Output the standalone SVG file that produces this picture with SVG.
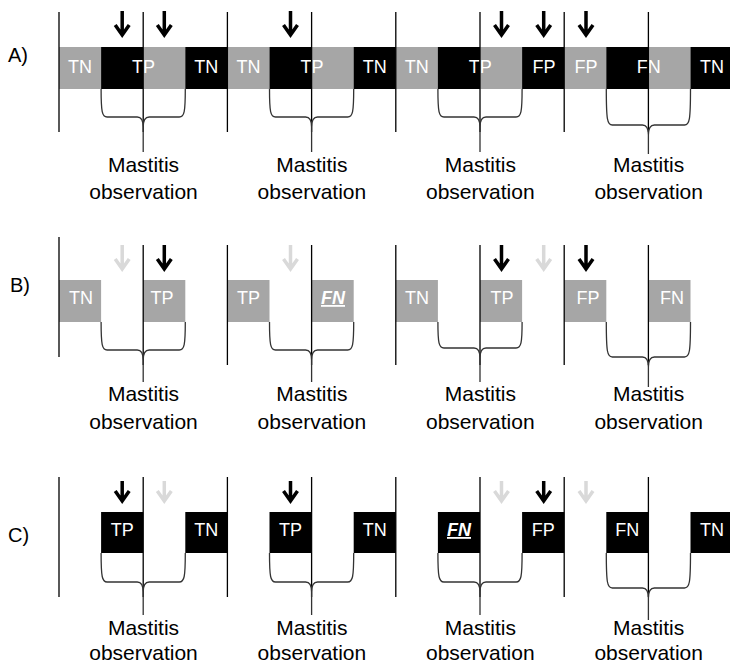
<svg xmlns="http://www.w3.org/2000/svg" width="730" height="664" viewBox="0 0 730 664">
<style>
.g{fill:#a6a6a6}
.k{fill:#000}
.bl{fill:#fff;font-family:"Liberation Sans",Arial,sans-serif;font-size:18px;text-anchor:middle}
.em{font-weight:bold;font-style:italic;text-decoration:underline}
.vl{stroke:#000;stroke-width:1.3}
.br{fill:none;stroke:#333;stroke-width:1.3}
.ab{fill:none;stroke:#000;stroke-width:3.5}
.al{fill:none;stroke:#d9d9d9;stroke-width:3.5}
.lab{font-family:"Liberation Sans",Arial,sans-serif;font-size:21px;fill:#000;text-anchor:middle}
.row{font-family:"Liberation Sans",Arial,sans-serif;font-size:20px;fill:#000}
</style>
<rect width="730" height="664" fill="#fff"/>

<!-- Row labels -->
<text class="row" x="8" y="62">A)</text>
<text class="row" x="10" y="292">B)</text>
<text class="row" x="8" y="542">C)</text>

<!-- Row A -->
<g id="rowA-bars">
<rect class="g" x="59" y="47" width="42.2" height="42"/>
<rect class="k" x="101.1" y="47" width="42.2" height="42"/>
<rect class="g" x="143.2" y="47" width="42.2" height="42"/>
<rect class="k" x="185.3" y="47" width="42.2" height="42"/>
<rect class="g" x="227.4" y="47" width="42.2" height="42"/>
<rect class="k" x="269.5" y="47" width="42.2" height="42"/>
<rect class="g" x="311.6" y="47" width="42.2" height="42"/>
<rect class="k" x="353.7" y="47" width="42.2" height="42"/>
<rect class="g" x="395.8" y="47" width="42.2" height="42"/>
<rect class="k" x="437.9" y="47" width="42.2" height="42"/>
<rect class="g" x="480" y="47" width="42.2" height="42"/>
<rect class="k" x="522.1" y="47" width="42.2" height="42"/>
<rect class="g" x="564.2" y="47" width="42.2" height="42"/>
<rect class="k" x="606.3" y="47" width="42.2" height="42"/>
<rect class="g" x="648.4" y="47" width="42.2" height="42"/>
<rect class="k" x="690.5" y="47" width="42.2" height="42"/>
</g>
<g id="rowA-labels">
<text class="bl" x="80" y="73">TN</text>
<text class="bl" x="143.5" y="73">TP</text>
<text class="bl" x="206.3" y="73">TN</text>
<text class="bl" x="248.4" y="73">TN</text>
<text class="bl" x="311.9" y="73">TP</text>
<text class="bl" x="374.7" y="73">TN</text>
<text class="bl" x="416.8" y="73">TN</text>
<text class="bl" x="480.3" y="73">TP</text>
<text class="bl" x="544" y="73">FP</text>
<text class="bl" x="586" y="73">FP</text>
<text class="bl" x="648.7" y="73">FN</text>
<text class="bl" x="712" y="73">TN</text>
</g>

<!-- Row B -->
<g id="rowB-bars">
<rect class="g" x="59" y="280" width="42.1" height="42"/>
<rect class="g" x="143.2" y="280" width="42.1" height="42"/>
<rect class="g" x="227.4" y="280" width="42.1" height="42"/>
<rect class="g" x="311.6" y="280" width="42.1" height="42"/>
<rect class="g" x="395.8" y="280" width="42.1" height="42"/>
<rect class="g" x="480" y="280" width="42.1" height="42"/>
<rect class="g" x="564.2" y="280" width="42.1" height="42"/>
<rect class="g" x="648.4" y="280" width="42.1" height="42"/>
</g>
<g id="rowB-labels">
<text class="bl" x="81" y="304">TN</text>
<text class="bl" x="162" y="304">TP</text>
<text class="bl" x="248.4" y="304">TP</text>
<text class="bl em" x="333" y="304">FN</text>
<text class="bl" x="417" y="304">TN</text>
<text class="bl" x="502" y="304">TP</text>
<text class="bl" x="588" y="304">FP</text>
<text class="bl" x="672" y="304">FN</text>
</g>

<!-- Row C -->
<g id="rowC-bars">
<rect class="k" x="101.1" y="512" width="42.1" height="41"/>
<rect class="k" x="185.3" y="512" width="42.1" height="41"/>
<rect class="k" x="269.5" y="512" width="42.1" height="41"/>
<rect class="k" x="353.7" y="512" width="42.1" height="41"/>
<rect class="k" x="437.9" y="512" width="42.1" height="41"/>
<rect class="k" x="522.1" y="512" width="42.1" height="41"/>
<rect class="k" x="606.3" y="512" width="42.1" height="41"/>
<rect class="k" x="690.5" y="512" width="42.1" height="41"/>
</g>
<g id="rowC-labels">
<text class="bl" x="122.2" y="536">TP</text>
<text class="bl" x="206.3" y="536">TN</text>
<text class="bl" x="290.5" y="536">TP</text>
<text class="bl" x="374.7" y="536">TN</text>
<text class="bl em" x="459" y="536">FN</text>
<text class="bl" x="543.2" y="536">FP</text>
<text class="bl" x="627.3" y="536">FN</text>
<text class="bl" x="712" y="536">TN</text>
</g>

<!-- Vertical time lines -->
<g id="lines">
<path class="vl" d="M59,12V132M143.2,12V132M227.4,12V132M311.6,12V132M395.8,12V132M480,12V132M564.2,12V132M648.4,12V132"/>
<path class="vl" d="M59,237V357M143.2,245V365M227.4,245V365M311.6,245V365M395.8,245V365M480,245V365M564.2,245V365M648.4,245V365"/>
<path class="vl" d="M59,477V597M143.2,477V597M227.4,477V597M311.6,477V597M395.8,477V597M480,477V597M564.2,477V597M648.4,477V597"/>
</g>

<!-- Arrows -->
<g id="arrows">
<path class="ab" d="M122.2,11V33M115.2,25L122.2,35L129.2,25"/>
<path class="ab" d="M164.3,11V33M157.3,25L164.3,35L171.3,25"/>
<path class="ab" d="M290.5,11V33M283.5,25L290.5,35L297.5,25"/>
<path class="ab" d="M501.5,11V33M494.5,25L501.5,35L508.5,25"/>
<path class="ab" d="M543.7,11V33M536.7,25L543.7,35L550.7,25"/>
<path class="ab" d="M586,11V33M579,25L586,35L593,25"/>

<path class="al" d="M122.2,245V267M115.2,259L122.2,269L129.2,259"/>
<path class="ab" d="M164.3,245V267M157.3,259L164.3,269L171.3,259"/>
<path class="al" d="M290.5,245V267M283.5,259L290.5,269L297.5,259"/>
<path class="ab" d="M501.5,245V267M494.5,259L501.5,269L508.5,259"/>
<path class="al" d="M543.7,245V267M536.7,259L543.7,269L550.7,259"/>
<path class="ab" d="M586,245V267M579,259L586,269L593,259"/>

<path class="ab" d="M122.2,481V499M115.2,491L122.2,501L129.2,491"/>
<path class="al" d="M164.3,481V499M157.3,491L164.3,501L171.3,491"/>
<path class="ab" d="M290.5,481V499M283.5,491L290.5,501L297.5,491"/>
<path class="al" d="M501.5,481V499M494.5,491L501.5,501L508.5,491"/>
<path class="ab" d="M543.7,481V499M536.7,491L543.7,501L550.7,491"/>
<path class="al" d="M586,481V499M579,491L586,501L593,491"/>
</g>

<!-- Braces -->
<g id="braces">
<path class="br" d="M101.1,89C101.1,112 102.1,117 107.1,117H137.2Q143.2,117 143.2,127V152M143.2,127Q143.2,117 149.2,117H179.3C184.3,117 185.3,112 185.3,89"/>
<path class="br" d="M269.5,89C269.5,112 270.5,117 275.5,117H305.6Q311.6,117 311.6,127V152M311.6,127Q311.6,117 317.6,117H347.7C352.7,117 353.7,112 353.7,89"/>
<path class="br" d="M437.9,89C437.9,112 438.9,117 443.9,117H474Q480,117 480,127V152M480,127Q480,117 486,117H516.1C521.1,117 522.1,112 522.1,89"/>
<path class="br" d="M606.3,89C606.3,120 607.3,125 612.3,125H642.4Q648.4,125 648.4,135V154M648.4,135Q648.4,125 654.4,125H684.5C689.5,125 690.5,120 690.5,89"/>

<path class="br" d="M101.1,322C101.1,345 102.1,350 107.1,350H137.2Q143.2,350 143.2,360V382M143.2,360Q143.2,350 149.2,350H179.3C184.3,350 185.3,345 185.3,322"/>
<path class="br" d="M269.5,322C269.5,345 270.5,350 275.5,350H305.6Q311.6,350 311.6,360V382M311.6,360Q311.6,350 317.6,350H347.7C352.7,350 353.7,345 353.7,322"/>
<path class="br" d="M437.9,322C437.9,343 438.9,348 443.9,348H474Q480,348 480,358V382M480,358Q480,348 486,348H516.1C521.1,348 522.1,343 522.1,322"/>
<path class="br" d="M606.3,322C606.3,352 607.3,357 612.3,357H642.4Q648.4,357 648.4,367V387M648.4,367Q648.4,357 654.4,357H684.5C689.5,357 690.5,352 690.5,322"/>

<path class="br" d="M101.1,553C101.1,577 102.1,582 107.1,582H137.2Q143.2,582 143.2,592V615M143.2,592Q143.2,582 149.2,582H179.3C184.3,582 185.3,577 185.3,553"/>
<path class="br" d="M269.5,553C269.5,577 270.5,582 275.5,582H305.6Q311.6,582 311.6,592V615M311.6,592Q311.6,582 317.6,582H347.7C352.7,582 353.7,577 353.7,553"/>
<path class="br" d="M437.9,553C437.9,577 438.9,582 443.9,582H474Q480,582 480,592V615M480,592Q480,582 486,582H516.1C521.1,582 522.1,577 522.1,553"/>
<path class="br" d="M606.3,553C606.3,583 607.3,588 612.3,588H642.4Q648.4,588 648.4,598V620M648.4,598Q648.4,588 654.4,588H684.5C689.5,588 690.5,583 690.5,553"/>
</g>

<!-- Observation labels -->
<g id="obs-A">
<text class="lab" x="143.5" y="172">Mastitis</text><text class="lab" x="143.5" y="199">observation</text>
<text class="lab" x="311.9" y="172">Mastitis</text><text class="lab" x="311.9" y="199">observation</text>
<text class="lab" x="480.3" y="172">Mastitis</text><text class="lab" x="480.3" y="199">observation</text>
<text class="lab" x="648.7" y="172">Mastitis</text><text class="lab" x="648.7" y="199">observation</text>
</g>
<g id="obs-B">
<text class="lab" x="143.5" y="401">Mastitis</text><text class="lab" x="143.5" y="429">observation</text>
<text class="lab" x="311.9" y="401">Mastitis</text><text class="lab" x="311.9" y="429">observation</text>
<text class="lab" x="480.3" y="401">Mastitis</text><text class="lab" x="480.3" y="429">observation</text>
<text class="lab" x="648.7" y="401">Mastitis</text><text class="lab" x="648.7" y="429">observation</text>
</g>
<g id="obs-C">
<text class="lab" x="143.5" y="635">Mastitis</text><text class="lab" x="143.5" y="660">observation</text>
<text class="lab" x="311.9" y="635">Mastitis</text><text class="lab" x="311.9" y="660">observation</text>
<text class="lab" x="480.3" y="635">Mastitis</text><text class="lab" x="480.3" y="660">observation</text>
<text class="lab" x="648.7" y="635">Mastitis</text><text class="lab" x="648.7" y="660">observation</text>
</g>
</svg>
